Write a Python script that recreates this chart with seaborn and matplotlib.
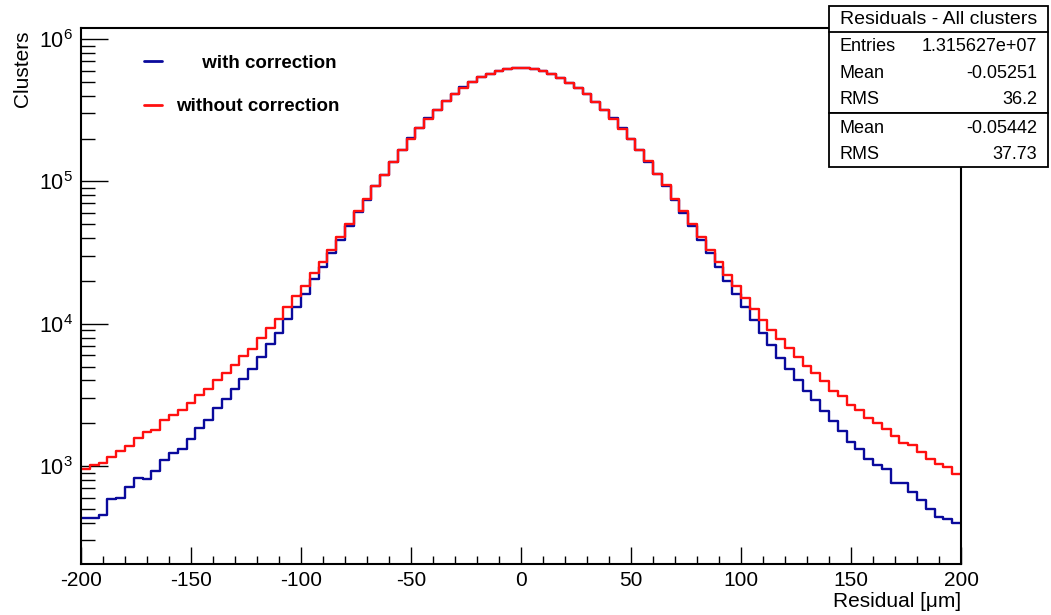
import numpy as np
import pandas as pd
import seaborn as sns
import matplotlib.pyplot as plt
from matplotlib.lines import Line2D
from matplotlib.patches import Rectangle
from matplotlib.ticker import MultipleLocator, LogLocator, NullFormatter

# binning of the residual histograms
x_min, x_max, n_bins = -200, 200, 100

# bin contents (clusters per 4 um bin)
with_corr = [432, 432, 450, 588, 598, 711, 827, 806, 922, 1097,
             1229, 1324, 1557, 1861, 2108, 2549, 2950, 3469, 4079, 4844,
             5790, 7170, 8546, 10792, 13180, 16190, 20640, 24920, 31270, 39040,
             48980, 60790, 74320, 92200, 111000, 136800, 166900, 201500, 237300, 278500,
             318500, 367800, 410000, 457000, 503000, 540000, 569000, 597000, 615500, 630000,
             630000, 615500, 597000, 569500, 532000, 494500, 456000, 412000, 364000, 318500,
             278500, 236500, 198300, 167000, 137500, 112500, 92200, 74320, 60200, 48200,
             39040, 31470, 25200, 20090, 16190, 13030, 10570, 8643, 7114, 5735,
             4798, 4033, 3375, 2916, 2440, 2074, 1764, 1476, 1311, 1126,
             1011, 948, 755, 755, 656, 573, 500, 440, 426, 399]

without_corr = [948, 1011, 1055, 1163, 1275, 1383, 1582, 1735, 1792, 2108,
                2287, 2480, 2791, 3162, 3469, 4013, 4539, 5143, 5951, 6665,
                7931, 9296, 10792, 13115, 15672, 18431, 22750, 27335, 33196, 40519,
                50363, 61780, 75548, 92964, 111660, 137830, 166110, 199830, 236140, 276360,
                316230, 365950, 407950, 453900, 500250, 537400, 566900, 595100, 614800, 630000,
                630000, 614800, 595100, 566900, 528700, 492300, 453900, 409900, 361800, 316230,
                276360, 235000, 197600, 167200, 138300, 113300, 93700, 75550, 61780, 49800,
                40520, 33200, 27030, 22130, 18370, 15250, 12750, 10640, 9027, 7752,
                6776, 5856, 5060, 4539, 3968, 3375, 3112, 2689, 2468, 2188,
                1999, 1813, 1627, 1459, 1406, 1261, 1115, 1028, 984, 883]

labels = ['with correction', 'without correction']
stats_title = 'Residuals - All clusters'
stats_rows = [('Entries', '1.315627e+07'), ('Mean', '-0.05251'), ('RMS', '36.2')]
stats_rows2 = [('Mean', '-0.05442'), ('RMS', '37.73')]

BLUE = '#0a0a9c'
RED = '#ff1010'

edges = np.linspace(x_min, x_max, n_bins + 1)
centers = 0.5 * (edges[:-1] + edges[1:])

df = pd.DataFrame({
    'residual': np.concatenate([centers, centers]),
    'clusters': with_corr + without_corr,
    'series': [labels[0]] * n_bins + [labels[1]] * n_bins,
})

sns.set_style('white')
plt.rcParams['font.family'] = ['Liberation Sans', 'DejaVu Sans']
plt.rcParams['mathtext.fontset'] = 'custom'
plt.rcParams['mathtext.rm'] = 'Liberation Sans'
plt.rcParams['mathtext.default'] = 'regular'
plt.rcParams['axes.unicode_minus'] = False
for key in ['text.color', 'axes.labelcolor', 'xtick.color', 'ytick.color']:
    plt.rcParams[key] = 'black'

fig = plt.figure(figsize=(10.51, 6.15), dpi=100)
ax = fig.add_axes([0.0771, 0.0829, 0.8373, 0.8716])

sns.histplot(data=df, x='residual', weights='clusters', hue='series',
             hue_order=[labels[1], labels[0]], bins=n_bins,
             binrange=(x_min, x_max), element='step',
             fill=False, palette={labels[0]: BLUE, labels[1]: RED},
             linewidth=1.7, legend=False, ax=ax)

ax.set_yscale('log')
ax.set_xlim(x_min, x_max)
ax.set_ylim(205, 1.196e6)

ax.xaxis.set_major_locator(MultipleLocator(50))
ax.xaxis.set_minor_locator(MultipleLocator(10))
ax.yaxis.set_major_locator(LogLocator(base=10))
ax.yaxis.set_minor_locator(LogLocator(base=10, subs=np.arange(2, 10)))
ax.yaxis.set_minor_formatter(NullFormatter())

ax.tick_params(which='both', direction='in', bottom=True, left=True,
               top=False, right=False, color='black', width=1)
ax.tick_params(axis='x', which='major', length=12, labelsize=15, pad=5)
ax.tick_params(axis='x', which='minor', length=6)
ax.tick_params(axis='y', which='major', length=19.5, labelsize=15.5, pad=6)
ax.tick_params(axis='y', which='minor', length=10)

for s in ax.spines.values():
    s.set_color('black')
    s.set_linewidth(1.5)

ax.set_xlabel('Residual [\u03bcm]', fontsize=15, loc='right')
ax.set_ylabel('Clusters', fontsize=15, loc='top')
ax.xaxis.set_label_coords(1.0, -0.052)
ax.yaxis.set_label_coords(-0.056, 0.996)

handles = [Line2D([], [], color=BLUE, lw=2), Line2D([], [], color=RED, lw=2)]
ax.legend(handles, ['     ' + labels[0], labels[1]], loc='upper left',
          bbox_to_anchor=(0.072, 0.95), frameon=False,
          prop={'weight': 'bold', 'size': 13.5}, handlelength=0.95,
          handletextpad=0.75, labelspacing=1.4, borderpad=0, borderaxespad=0)

# stats box, top right, over the frame corner
bx0, bx1 = 0.7888, 0.9971
fig.add_artist(Rectangle((bx0, 0.8167), bx1 - bx0, 0.9907 - 0.8167,
                         transform=fig.transFigure, facecolor='white',
                         edgecolor='black', linewidth=1.3, zorder=10))
fig.add_artist(Rectangle((bx0, 0.7290), bx1 - bx0, 0.8167 - 0.7290,
                         transform=fig.transFigure, facecolor='white',
                         edgecolor='black', linewidth=1.3, zorder=10))
fig.add_artist(Line2D([bx0, bx1], [0.9475, 0.9475], transform=fig.transFigure,
                      color='black', linewidth=1.3, zorder=11))
fig.text((bx0 + bx1) / 2, 0.9675, stats_title, ha='center', va='center',
         fontsize=14, zorder=12)
row_y = [0.9241, 0.8808, 0.8374]
for (name, val), y in zip(stats_rows, row_y):
    fig.text(0.7992, y, name, ha='left', va='center', fontsize=13, zorder=12)
    fig.text(0.9867, y, val, ha='right', va='center', fontsize=13, zorder=12)
row_y2 = [0.7914, 0.7480]
for (name, val), y in zip(stats_rows2, row_y2):
    fig.text(0.7992, y, name, ha='left', va='center', fontsize=13, zorder=12)
    fig.text(0.9867, y, val, ha='right', va='center', fontsize=13, zorder=12)

plt.savefig('out.png', dpi=100)
